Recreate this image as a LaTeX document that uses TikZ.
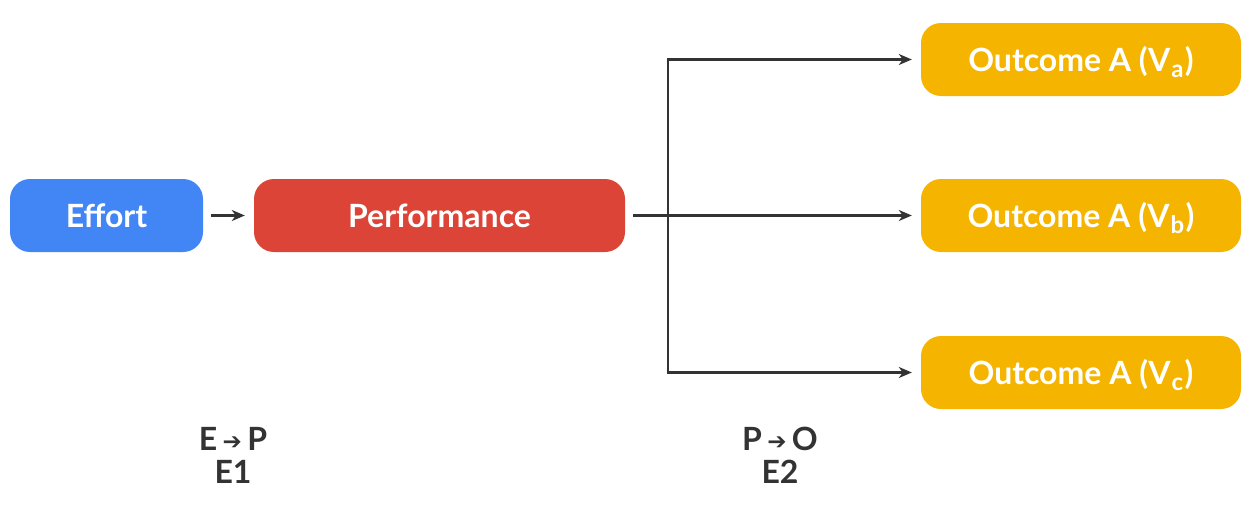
\documentclass[tikz,border=0pt]{standalone}
\usepackage{fontspec}
\setmainfont{Lato}
\newfontfamily\arrowfont{DejaVu Sans}
\usetikzlibrary{arrows.meta}
\definecolor{effortblue}{HTML}{4285F4}
\definecolor{perfred}{HTML}{DB4437}
\definecolor{outyellow}{HTML}{F4B400}
\definecolor{darkline}{HTML}{333333}
\tikzset{
  box/.style = {rounded corners = 20pt, minimum height = 73pt, inner sep = 0pt,
    text height = 23pt, text depth = 0pt,
    text = white, font = \bfseries\fontsize{32}{36}\selectfont},
  link/.style = {draw = darkline, line width = 2.5pt,
    -{Stealth[length = 13pt, width = 11pt, inset = 4pt]}},
  lbl/.style = {text = darkline, font = \bfseries\fontsize{32}{36}\selectfont}
}
\newcommand{\smallarrow}{{\arrowfont\fontsize{23}{26}\selectfont\raisebox{1pt}{➔}}}
\newcommand{\subv}[1]{\kern1pt\raisebox{-6pt}{\fontsize{24}{26}\selectfont #1}\kern1.5pt}

\begin{document}
\begin{tikzpicture}[x = 1pt, y = -1pt]
\useasboundingbox (0,0) rectangle (1251,506);

\node[box, fill = effortblue, minimum width = 193pt] (effort) at (106.5,215.5) {Effort};
\node[box, fill = perfred, minimum width = 371pt] (perf) at (439.5,215.5) {Performance};
\node[box, fill = outyellow, minimum width = 320pt] (outa) at (1081,59.5) {Outcome A (V\subv{a})};
\node[box, fill = outyellow, minimum width = 320pt] (outb) at (1081,215.5) {Outcome A (V\subv{b})};
\node[box, fill = outyellow, minimum width = 320pt] (outc) at (1081,372.5) {Outcome A (V\subv{c})};

\coordinate (split) at (668,215.5);

\draw[link, shorten < = 8pt, shorten > = 9pt] (effort) -- (perf);
\draw[link, shorten < = 8pt, shorten > = 9pt] (perf) -- (outb);
\draw[link, shorten > = 9pt] (split) |- (outa.west);
\draw[link, shorten > = 9pt] (split) |- (outc.west);

\node[lbl] (ep) at (233,439) {E\,\smallarrow\,P};
\node[lbl] (eone) at (233,472) {E1};
\node[lbl] (po) at (780,439) {P\,\smallarrow\,O};
\node[lbl] (etwo) at (780,472) {E2};
\end{tikzpicture}
\end{document}
